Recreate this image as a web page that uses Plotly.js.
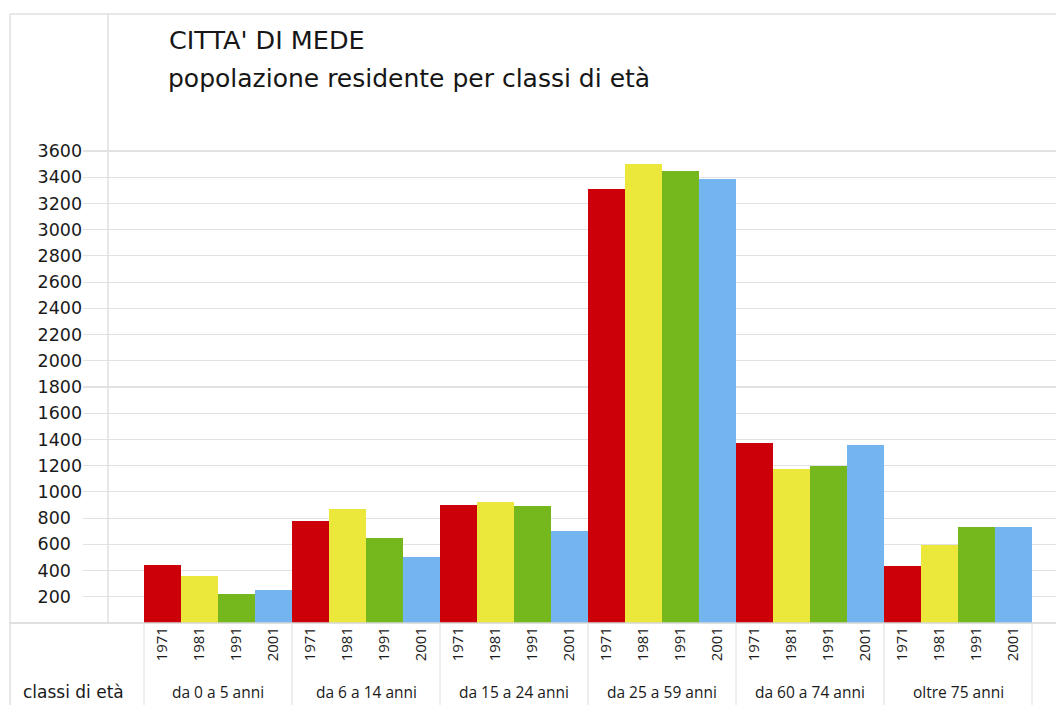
<!DOCTYPE html>
<html>
<head>
<meta charset="utf-8">
<script src="https://cdn.plot.ly/plotly-3.0.1.min.js"></script>
<style>html,body{margin:0;padding:0;background:#fff;}#chart{width:1056px;height:713px;}</style>
</head>
<body>
<div id="chart"></div>
<script>
// ---- data ----
const groups = ["da 0 a 5 anni", "da 6 a 14 anni", "da 15 a 24 anni", "da 25 a 59 anni", "da 60 a 74 anni", "oltre 75 anni"];
const years = ["1971", "1981", "1991", "2001"];
const v1971 = [440, 780, 900, 3310, 1375, 435];
const v1981 = [355, 870, 920, 3500, 1175, 595];
const v1991 = [220, 650, 890, 3450, 1200, 730];
const v2001 = [250, 500, 700, 3390, 1355, 735];
const yTicks = [200, 400, 600, 800, 1000, 1200, 1400, 1600, 1800, 2000, 2200, 2400, 2600, 2800, 3000, 3200, 3400, 3600];
const colors = ["#cc0008", "#ebe83b", "#74b81d", "#74b5f0"];
const titleText = "CITTA' DI MEDE";
const subtitleText = "popolazione residente per classi di età";
const axisLabel = "classi di età";

const series = [v1971, v1981, v1991, v2001];
const TFONT = "DejaVu Sans, Verdana, sans-serif";
const LFONT = "Open Sans, Noto Sans, sans-serif";

// category keys: one per (group, year) pair, ordered group by group
const keys = [];
const keyLabels = [];
groups.forEach(g => years.forEach(y => { keys.push(g + " | " + y); keyLabels.push(y); }));

const traces = series.map((vals, i) => ({
  type: "bar",
  x: groups.map(g => g + " | " + years[i]),
  y: vals,
  name: years[i],
  marker: { color: colors[i], line: { width: 0 } },
  width: 1,
  hoverinfo: "y"
}));

const W = 1056, H = 713;
const plotLeft = 83, plotTop = 14, base = 623;
const px = v => v / W;
const py = v => (base - v) / (base - plotTop);
const nPer = years.length;

const shapes = [
  { type: "line", xref: "paper", yref: "paper", x0: px(10), x1: 1, y0: py(14), y1: py(14), line: { color: "#e0e0e0", width: 1.5 } },
  { type: "line", xref: "paper", yref: "paper", x0: px(10), x1: px(10), y0: py(14), y1: py(705), line: { color: "#e0e0e0", width: 1.5 } },
  { type: "line", xref: "paper", yref: "paper", x0: px(108), x1: px(108), y0: py(14), y1: py(623), line: { color: "#e0e0e0", width: 1.5 } },
  { type: "line", xref: "paper", yref: "paper", x0: px(10), x1: 1, y0: 0, y1: 0, line: { color: "#d6d6d6", width: 1.5 }, layer: "above" }
];
// group dividers below the axis
for (let g = 0; g <= groups.length; g++) {
  shapes.push({ type: "line", xref: "x", yref: "paper", x0: g * nPer - 0.5, x1: g * nPer - 0.5, y0: 0, y1: py(705), line: { color: "#dedede", width: 1 } });
}

const annotations = [
  {
    text: subtitleText, xref: "paper", yref: "paper",
    x: px(166), y: py(79), xanchor: "left", yanchor: "middle",
    showarrow: false, font: { family: TFONT, size: 25, color: "#161616" }
  },
  {
    text: axisLabel, xref: "paper", yref: "paper",
    x: px(21), y: py(692), xanchor: "left", yanchor: "middle",
    showarrow: false, font: { family: TFONT, size: 17, color: "#1a1a1a" }
  }
];
groups.forEach((g, i) => annotations.push({
  text: g, xref: "x", yref: "paper",
  x: i * nPer + (nPer - 1) / 2, y: py(692), xanchor: "center", yanchor: "middle",
  showarrow: false, font: { family: LFONT, size: 15.5, color: "#1a1a1a" }
}));

const layout = {
  width: W, height: H,
  margin: { l: 0, r: 0, t: plotTop, b: H - base, pad: 0 },
  paper_bgcolor: "#fff", plot_bgcolor: "#fff",
  showlegend: false,
  barmode: "overlay",
  bargap: 0,
  font: { family: TFONT, color: "#1a1a1a" },
  title: {
    text: titleText,
    x: px(169), xanchor: "left", xref: "paper",
    y: 1 - 40 / H, yanchor: "middle", yref: "container",
    font: { family: TFONT, size: 25.5, color: "#161616" }
  },
  xaxis: {
    type: "category",
    categoryorder: "array", categoryarray: keys,
    tickvals: keys, ticktext: keyLabels,
    domain: [plotLeft / W, 1],
    range: [-0.5 - 61 / 37, keys.length - 0.5 + 24 / 37],
    showgrid: false, zeroline: false, showline: false,
    ticks: "",
    tickangle: -90,
    tickfont: { family: LFONT, size: 15, color: "#1a1a1a" },
    fixedrange: true
  },
  yaxis: {
    range: [0, (base - plotTop) / ((base - 151) / 3600)],
    tickvals: yTicks,
    ticktext: yTicks.map(String),
    side: "right",
    anchor: "free",
    position: px(36.5),
    showline: false, zeroline: false, ticks: "",
    showgrid: true, gridcolor: "#e2e2e2", gridwidth: 1.2,
    tickfont: { family: TFONT, size: 17.5, color: "#1a1a1a" },
    fixedrange: true
  },
  annotations: annotations,
  shapes: shapes
};

Plotly.newPlot("chart", traces, layout, { displayModeBar: false, staticPlot: true });
</script>
</body>
</html>
